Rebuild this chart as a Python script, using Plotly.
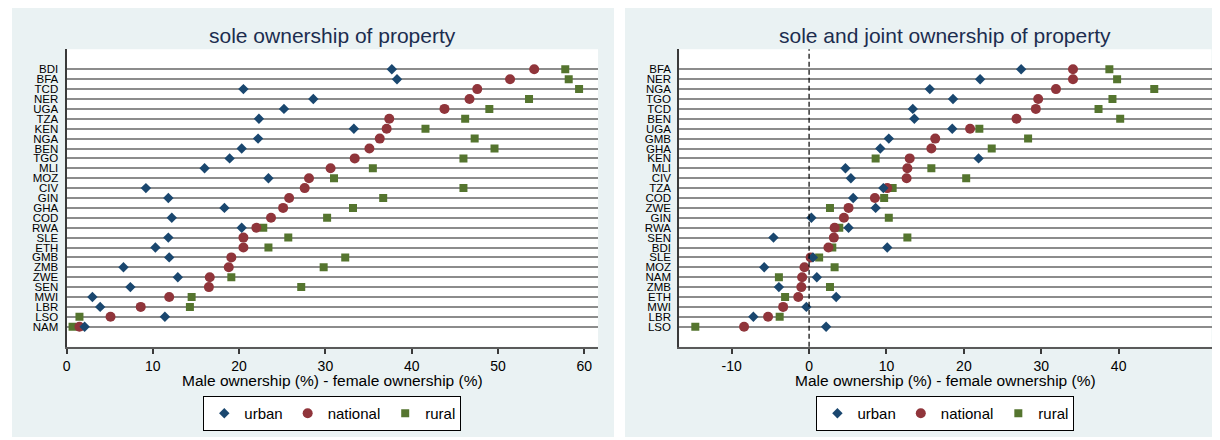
import plotly.graph_objects as go

# ---------------- data ----------------
sole_countries = ["BDI", "BFA", "TCD", "NER", "UGA", "TZA", "KEN", "NGA", "BEN", "TGO",
                  "MLI", "MOZ", "CIV", "GIN", "GHA", "COD", "RWA", "SLE", "ETH", "GMB",
                  "ZMB", "ZWE", "SEN", "MWI", "LBR", "LSO", "NAM"]
sole_urban = [37.7, 38.3, 20.5, 28.6, 25.2, 22.3, 33.3, 22.2, 20.3, 18.9,
              16.0, 23.4, 9.2, 11.8, 18.3, 12.2, 20.3, 11.8, 10.3, 11.9,
              6.6, 12.9, 7.4, 3.0, 3.9, 11.4, 2.1]
sole_national = [54.2, 51.4, 47.6, 46.7, 43.8, 37.4, 37.1, 36.3, 35.1, 33.4,
                 30.6, 28.1, 27.6, 25.8, 25.1, 23.7, 22.0, 20.5, 20.5, 19.1,
                 18.8, 16.6, 16.5, 11.9, 8.6, 5.1, 1.5]
sole_rural = [57.8, 58.2, 59.4, 53.6, 49.0, 46.2, 41.6, 47.3, 49.6, 46.0,
              35.5, 31.0, 46.0, 36.7, 33.2, 30.2, 22.8, 25.7, 23.4, 32.3,
              29.8, 19.1, 27.2, 14.5, 14.3, 1.5, 0.7]

joint_countries = ["BFA", "NER", "NGA", "TGO", "TCD", "BEN", "UGA", "GMB", "GHA", "KEN",
                   "MLI", "CIV", "TZA", "COD", "ZWE", "GIN", "RWA", "SEN", "BDI", "SLE",
                   "MOZ", "NAM", "ZMB", "ETH", "MWI", "LBR", "LSO"]
joint_urban = [27.4, 22.1, 15.6, 18.6, 13.4, 13.6, 18.5, 10.3, 9.2, 21.9,
               4.7, 5.4, 9.6, 5.7, 8.6, 0.3, 5.1, -4.6, 10.1, 0.5,
               -5.8, 1.0, -3.9, 3.5, -0.35, -7.2, 2.2]
joint_national = [34.1, 34.1, 31.9, 29.6, 29.3, 26.8, 20.8, 16.3, 15.8, 13.0,
                  12.7, 12.6, 10.1, 8.5, 5.1, 4.5, 3.3, 3.2, 2.5, 0.2,
                  -0.6, -0.9, -1.0, -1.4, -3.35, -5.3, -8.4]
joint_rural = [38.8, 39.8, 44.6, 39.2, 37.4, 40.2, 22.0, 28.3, 23.6, 8.6,
               15.8, 20.3, 10.8, 9.7, 2.7, 10.3, 3.9, 12.7, 3.0, 1.3,
               3.3, -3.9, 2.7, -3.1, None, -3.8, -14.7]

sole_xticks = [0, 10, 20, 30, 40, 50, 60]
joint_xticks = [-10, 0, 10, 20, 30, 40]
sole_xticklabels = ["0", "10", "20", "30", "40", "50", "60"]
joint_xticklabels = ["-10", "0", "10", "20", "30", "40"]

titles = ["sole ownership of property", "sole and joint ownership of property"]
xtitle = "Male ownership (%) - female ownership (%)"

# ---------------- styles ----------------
OFF = 8  # default page margin of the html body
W, H = 1220 - OFF, 440 - OFF
FONT = "Liberation Sans, Arial, sans-serif"
C_URBAN = "#1a476f"
C_NAT = "#90353b"
C_RURAL = "#55752f"
PANEL_BG = "#eaf2f3"
GRID = "#8c8c8c"

def px_x(p):
    return (p - OFF) / W

def px_y(p):
    return 1 - (p - OFF) / H

left_dom = [px_x(62.7), px_x(596)]
right_dom = [px_x(677.5), px_x(1211.5)]
y_dom = [px_y(346.7), px_y(49.3)]

fig = go.Figure()

series = [
    ("rural", "square", 8, C_RURAL, 3),
    ("national", "circle", 10, C_NAT, 2),
    ("urban", "diamond", 8, C_URBAN, 1),
]

panels = [
    (sole_countries, {"urban": sole_urban, "national": sole_national, "rural": sole_rural}, "x", "y", "legend"),
    (joint_countries, {"urban": joint_urban, "national": joint_national, "rural": joint_rural}, "x2", "y2", "legend2"),
]

for countries, vals, xa, ya, leg in panels:
    ypos = list(range(1, len(countries) + 1))
    for name, sym, size, col, rank in series:
        fig.add_trace(go.Scatter(
            x=vals[name], y=ypos, mode="markers", name=name,
            marker=dict(symbol=sym, size=size, color=col, line=dict(width=0)),
            xaxis=xa, yaxis=ya, legend=leg, legendrank=rank,
            hovertext=countries, showlegend=True,
        ))

n_rows = len(sole_countries)
yrange = [n_rows + 2.02, -1.02]

common_y = dict(
    range=yrange, showgrid=True, gridcolor=GRID, gridwidth=2,
    zeroline=False, showline=True, linecolor="#3a3a3a", linewidth=2,
    ticks="", tickfont=dict(family=FONT, size=11.5, color="black"),
    ticklabelstandoff=4, domain=y_dom,
)
common_x = dict(
    showgrid=False, zeroline=False, showline=True, linecolor="#5a5a5a", linewidth=2,
    ticks="outside", ticklen=5, tickwidth=1.5, tickcolor="#3a3a3a",
    tickfont=dict(family=FONT, size=14, color="black"),
)

fig.update_layout(
    width=W, height=H, margin=dict(l=0, r=0, t=0, b=0),
    paper_bgcolor="white", plot_bgcolor="white",
    font=dict(family=FONT, color="black"),
    xaxis=dict(domain=left_dom, range=[0, 61.6], tickvals=sole_xticks,
               ticktext=sole_xticklabels, anchor="y", **common_x),
    yaxis=dict(anchor="x", tickvals=list(range(1, len(sole_countries) + 1)),
               ticktext=sole_countries, **common_y),
    xaxis2=dict(domain=right_dom, range=[-16.77, 52.0], tickvals=joint_xticks,
                ticktext=joint_xticklabels, anchor="y2", **common_x),
    yaxis2=dict(anchor="x2", tickvals=list(range(1, len(joint_countries) + 1)),
                ticktext=joint_countries, **common_y),
    legend=dict(orientation="h", x=(left_dom[0] + left_dom[1]) / 2, xanchor="center",
                y=px_y(396), yanchor="top", bgcolor="white", bordercolor="black",
                borderwidth=1, font=dict(family=FONT, size=15, color="black"),
                traceorder="normal"),
    legend2=dict(orientation="h", x=(right_dom[0] + right_dom[1]) / 2, xanchor="center",
                 y=px_y(396), yanchor="top", bgcolor="white", bordercolor="black",
                 borderwidth=1, font=dict(family=FONT, size=15, color="black"),
                 traceorder="normal"),
    showlegend=True,
)

shapes = [
    dict(type="rect", xref="paper", yref="paper", x0=px_x(8), x1=px_x(612),
         y0=px_y(437), y1=px_y(8), fillcolor=PANEL_BG, line=dict(width=0), layer="below"),
    dict(type="rect", xref="paper", yref="paper", x0=px_x(623), x1=px_x(1212),
         y0=px_y(437), y1=px_y(8), fillcolor=PANEL_BG, line=dict(width=0), layer="below"),
    dict(type="rect", xref="x domain", yref="y domain", x0=0, x1=1, y0=0, y1=1,
         fillcolor="white", line=dict(width=0), layer="below"),
    dict(type="rect", xref="x2 domain", yref="y2 domain", x0=0, x1=1, y0=0, y1=1,
         fillcolor="white", line=dict(width=0), layer="below"),
    dict(type="line", xref="x2", yref="y2 domain", x0=0, x1=0, y0=0, y1=1,
         line=dict(color="black", width=1.2, dash="5px,3px"), layer="above"),
]
fig.update_layout(shapes=shapes)

annotations = []
for dom, t in zip([left_dom, right_dom], titles):
    cx = (dom[0] + dom[1]) / 2
    annotations.append(dict(text=t, xref="paper", yref="paper", x=cx, y=px_y(35),
                            xanchor="center", yanchor="middle", showarrow=False,
                            font=dict(family=FONT, size=21, color="#1c2d4f")))
    annotations.append(dict(text=xtitle, xref="paper", yref="paper", x=cx, y=px_y(380.5),
                            xanchor="center", yanchor="middle", showarrow=False,
                            font=dict(family=FONT, size=15.5, color="black")))
fig.update_layout(annotations=annotations)

fig.write_html("out.html")
